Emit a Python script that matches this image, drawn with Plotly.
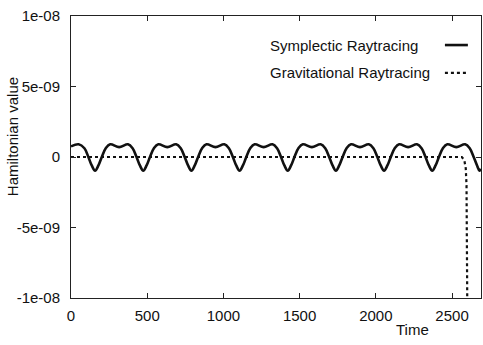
import plotly.graph_objects as go

# Symplectic Raytracing (values in units of 1e-9)
symp_t = [0, 50, 88, 114, 136,
          158, 180, 202, 228, 257, 316, 374, 404, 430, 452,
          474, 496, 518, 544, 573, 632, 690, 720, 746, 768,
          790, 812, 834, 860, 889, 948, 1006, 1036, 1062, 1084,
          1106, 1128, 1150, 1176, 1205, 1264, 1322, 1352, 1378, 1400,
          1422, 1444, 1466, 1492, 1521, 1580, 1638, 1668, 1694, 1716,
          1738, 1760, 1782, 1808, 1837, 1896, 1954, 1984, 2010, 2032,
          2054, 2076, 2098, 2124, 2153, 2212, 2270, 2300, 2326, 2348,
          2370, 2392, 2414, 2440, 2469, 2528, 2586, 2616, 2642, 2664,
          2680, 2690]
symp_v = [0.75, 0.9, 0.62, 0.0, -0.6,
          -0.97, -0.6, 0.0, 0.62, 0.9, 0.7, 0.9, 0.62, 0.0, -0.6,
          -0.97, -0.6, 0.0, 0.62, 0.9, 0.7, 0.9, 0.62, 0.0, -0.6,
          -0.97, -0.6, 0.0, 0.62, 0.9, 0.7, 0.9, 0.62, 0.0, -0.6,
          -0.97, -0.6, 0.0, 0.62, 0.9, 0.7, 0.9, 0.62, 0.0, -0.6,
          -0.97, -0.6, 0.0, 0.62, 0.9, 0.7, 0.9, 0.62, 0.0, -0.6,
          -0.97, -0.6, 0.0, 0.62, 0.9, 0.7, 0.9, 0.62, 0.0, -0.6,
          -0.97, -0.6, 0.0, 0.62, 0.9, 0.7, 0.9, 0.62, 0.0, -0.6,
          -0.97, -0.6, 0.0, 0.62, 0.9, 0.7, 0.9, 0.62, 0.0, -0.6,
          -0.97, -0.85]

# Gravitational Raytracing (values in units of 1e-9)
grav_t = [0, 2564, 2580, 2590, 2595, 2598, 2600]
grav_v = [0.0, 0.0, -0.2, -0.8, -2.0, -5.0, -10.5]

scale = 1e-9

y_ticks = [1e-8, 5e-9, 0, -5e-9, -1e-8]
y_ticktext = ["1e-08", "5e-09", "0", "-5e-09", "-1e-08"]
x_ticks = [0, 500, 1000, 1500, 2000, 2500]

font = dict(family="Liberation Sans, Arial, sans-serif", size=15, color="#111")

fig = go.Figure()
fig.add_trace(go.Scatter(
    x=symp_t, y=[v * scale for v in symp_v], mode="lines",
    line=dict(color="#111", width=2.6, shape="spline", smoothing=1.0),
    name="Symplectic Raytracing", showlegend=False))
fig.add_trace(go.Scatter(
    x=grav_t, y=[v * scale for v in grav_v], mode="lines",
    line=dict(color="#111", width=2.2, dash="dot"),
    name="Gravitational Raytracing", showlegend=False))

axis_common = dict(showline=True, linecolor="#222", linewidth=1, mirror="ticks",
                   ticks="inside", ticklen=5, tickcolor="#222", showgrid=False,
                   zeroline=False, tickfont=font)

fig.update_xaxes(range=[0, 2690], tickvals=x_ticks, ticklabelstandoff=4, **axis_common)
fig.update_yaxes(range=[-1e-8, 1e-8], tickvals=y_ticks, ticktext=y_ticktext,
                 ticklabelstandoff=7, **axis_common)

# legend (text left, sample right as in the original)
fig.add_annotation(x=0.48, y=0.897, xref="paper", yref="paper", text="Symplectic Raytracing",
                   showarrow=False, xanchor="left", yanchor="middle", font=font)
fig.add_annotation(x=0.48, y=0.798, xref="paper", yref="paper", text="Gravitational Raytracing",
                   showarrow=False, xanchor="left", yanchor="middle", font=font)
fig.add_shape(type="line", xref="paper", yref="paper", x0=0.912, x1=0.968, y0=0.897, y1=0.897,
              line=dict(color="#111", width=2.6))
fig.add_shape(type="line", xref="paper", yref="paper", x0=0.912, x1=0.968, y0=0.798, y1=0.798,
              line=dict(color="#111", width=2.2, dash="dot"))

# axis titles
fig.add_annotation(x=-0.141, y=0.571, xref="paper", yref="paper", text="Hamiltonian value",
                   textangle=-90, showarrow=False, xanchor="center", yanchor="middle", font=font)
fig.add_annotation(x=0.834, y=-0.11, xref="paper", yref="paper", text="Time",
                   showarrow=False, xanchor="center", yanchor="middle", font=font)

fig.update_layout(width=483, height=345, margin=dict(l=71, r=2, t=16, b=47),
                  plot_bgcolor="white", paper_bgcolor="white", font=font)

fig.write_html("out.html", config={"displayModeBar": False},
               post_script="document.body.style.margin='0';document.body.style.overflow='hidden';")
